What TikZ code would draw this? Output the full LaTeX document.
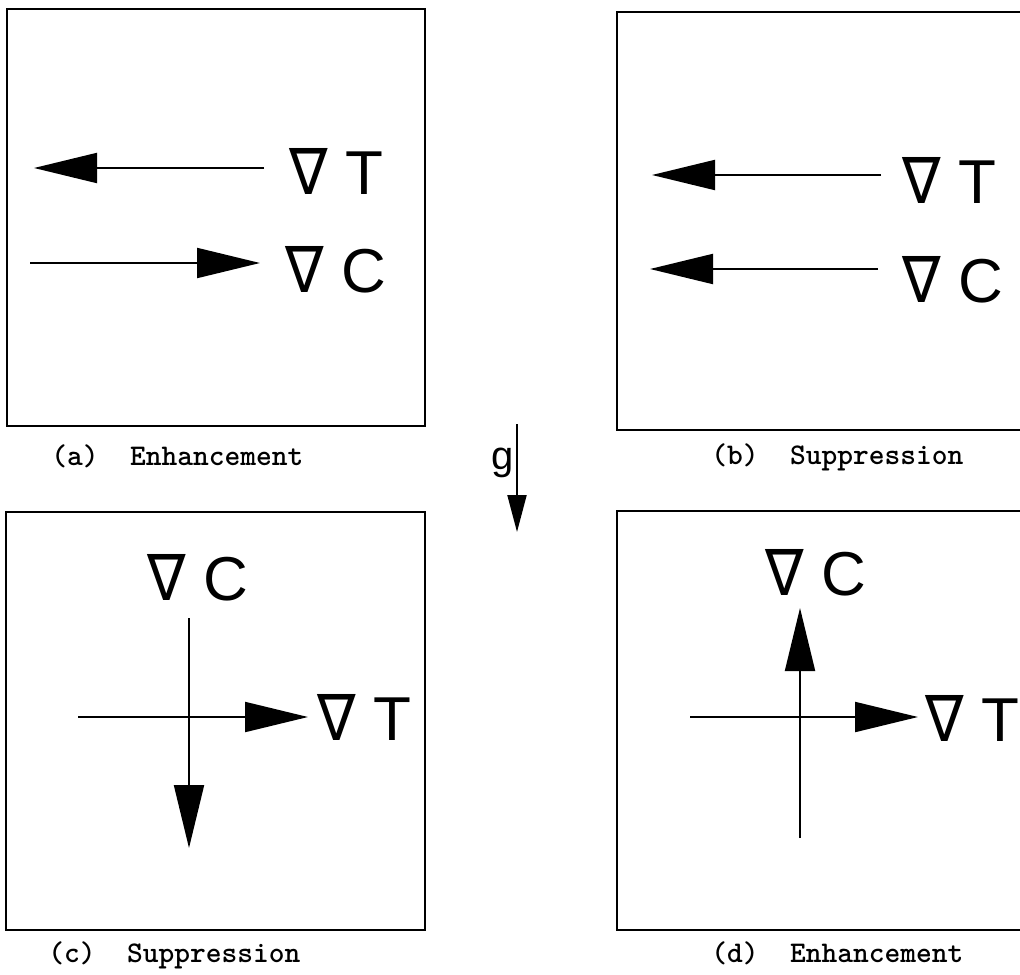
\documentclass[tikz,border=0pt]{standalone}
\usepackage{fontspec}
\setmainfont{Liberation Sans}
\newfontfamily\nabfont[FakeStretch=0.9]{DejaVu Sans}
\usetikzlibrary{arrows.meta}
\newcommand\nab{{\nabfont\fontsize{32}{32}\selectfont ∇}}
\begin{document}
\begin{tikzpicture}[x=0.5pt,y=-0.5pt,
  panel/.style={line width=1.1pt},
  vec/.style={line width=1pt,-{Triangle[length=31.5pt,width=15pt]}},
  grav/.style={line width=1pt,-{Triangle[length=18.5pt,width=9.5pt]}},
  lab/.style={inner sep=0pt,anchor=base west,font=\fontsize{31}{31}\selectfont},
  capt/.style={inner sep=0pt,anchor=base west,font=\ttfamily\bfseries\fontsize{15}{15}\selectfont}]
\clip (0,0) rectangle (1020,974);
\useasboundingbox (0,0) rectangle (1020,974);

% panels
\draw[panel] (7,9) rectangle (425,426);
\draw[panel] (617,12) rectangle (1030,430);
\draw[panel] (6,512) rectangle (425,930);
\draw[panel] (617,511) rectangle (1030,930);

% (a)
\coordinate (a1s) at (264,168); \coordinate (a1e) at (34,168);
\coordinate (a2s) at (30,263);  \coordinate (a2e) at (260,263);
\draw[vec] (a1s) -- (a1e);
\draw[vec] (a2s) -- (a2e);
\node[lab] (aT) at (289,194) {\nab\hspace{9pt}T};
\node[lab] (aC) at (285,292) {\nab\hspace{9pt}C};
\node[capt] (capA) at (51,465) {(a)\ \ Enhancement};

% (b)
\coordinate (b1s) at (881,175); \coordinate (b1e) at (652,175);
\coordinate (b2s) at (878,269); \coordinate (b2e) at (650,269);
\draw[vec] (b1s) -- (b1e);
\draw[vec] (b2s) -- (b2e);
\node[lab] (bT) at (902,203) {\nab\hspace{9pt}T};
\node[lab] (bC) at (902,302) {\nab\hspace{9pt}C};
\node[capt] (capB) at (711,464) {(b)\ \ Suppression};

% gravity
\coordinate (gs) at (517,424); \coordinate (ge) at (517,532);
\draw[grav] (gs) -- (ge);
\node[inner sep=0pt,anchor=base west,font=\fontsize{20}{20}\selectfont] (g) at (491,469) {g};

% (c)
\coordinate (c1s) at (78,717);  \coordinate (c1e) at (308,717);
\coordinate (c2s) at (189,618); \coordinate (c2e) at (189,848);
\draw[vec] (c1s) -- (c1e);
\draw[vec] (c2s) -- (c2e);
\node[lab] (cT) at (317,740) {\nab\hspace{9pt}T};
\node[lab] (cC) at (147,600) {\nab\hspace{9pt}C};
\node[capt] (capC) at (48,962) {(c)\ \ Suppression};

% (d)
\coordinate (d1s) at (690,717); \coordinate (d1e) at (918,717);
\coordinate (d2s) at (800,838); \coordinate (d2e) at (800,608);
\draw[vec] (d1s) -- (d1e);
\draw[vec] (d2s) -- (d2e);
\node[lab] (dT) at (925,741) {\nab\hspace{9pt}T};
\node[lab] (dC) at (765,595) {\nab\hspace{9pt}C};
\node[capt] (capD) at (711,962) {(d)\ \ Enhancement};
\end{tikzpicture}
\end{document}
